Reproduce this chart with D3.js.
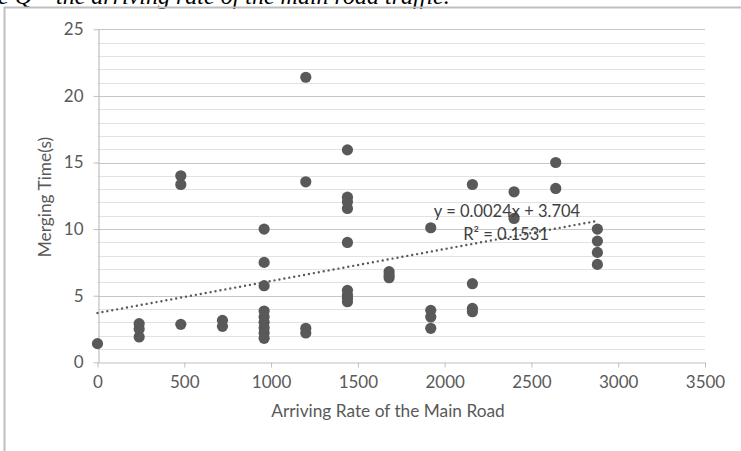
<!DOCTYPE html>
<html>
<head>
<meta charset="utf-8">
<script src="https://cdn.jsdelivr.net/npm/d3@7"></script>
<style>
  html, body { margin: 0; padding: 0; background: #fff; }
  svg { display: block; }
  .tick text { font-family: Lato, "Open Sans", sans-serif; }
</style>
</head>
<body>
<svg id="chart" width="741" height="451"></svg>
<script>
// Arriving rate (veh/h) of each observation
const arrivalRate = [
  0,
  240, 240, 240,
  480, 480, 480,
  720, 720,
  960, 960, 960, 960, 960, 960, 960, 960, 960,
  1200, 1200, 1200, 1200,
  1440, 1440, 1440, 1440, 1440, 1440, 1440, 1440, 1440,
  1680, 1680, 1680,
  1920, 1920, 1920, 1920,
  2160, 2160, 2160, 2160,
  2400, 2400,
  2640, 2640,
  2880, 2880, 2880, 2880
];
// Merging time (s) of each observation
const mergingTime = [
  1.4,
  2.9, 2.5, 1.9,
  14.0, 13.35, 2.85,
  3.15, 2.7,
  10.0, 7.5, 5.75, 3.85, 3.4, 3.0, 2.6, 2.2, 1.8,
  21.4, 13.55, 2.55, 2.2,
  15.95, 12.4, 12.05, 11.55, 9.0, 5.4, 5.05, 4.8, 4.55,
  6.8, 6.55, 6.35,
  10.1, 3.9, 3.4, 2.55,
  13.35, 5.9, 4.05, 3.8,
  12.8, 10.8,
  15.0, 13.05,
  10.0, 9.1, 8.25, 7.35
];
// Linear trend line as reported on the chart
const trendSlope = 0.0024;
const trendIntercept = 3.704;
const trendR2 = 0.1531;

const xTicks = [0, 500, 1000, 1500, 2000, 2500, 3000, 3500];
const yTicks = [0, 5, 10, 15, 20, 25];
const yMinorTicks = d3.range(0, 26, 1);

const xTitle = "Arriving Rate of the Main Road";
const yTitle = "Merging Time(s)";
const captionText = "e Q \u2013 the arriving rate of the main road traffic.";

const svg = d3.select("#chart");
const plot = { left: 97.5, right: 705, top: 29.3, bottom: 362.3 };

const x = d3.scaleLinear().domain([0, 3500]).range([plot.left, plot.right]);
const y = d3.scaleLinear().domain([0, 25]).range([plot.bottom, plot.top]);

// Caption line of the surrounding document, running off the top edge
svg.append("text")
  .attr("x", -2)
  .attr("y", 3.5)
  .attr("font-family", "'Liberation Serif', 'Times New Roman', serif")
  .attr("font-style", "italic")
  .attr("font-size", 24)
  .attr("fill", "#000")
  .text(captionText);

// Chart frame
svg.append("path")
  .attr("d", `M4.5,451 V7.5 H741`)
  .attr("fill", "none")
  .attr("stroke", "#bfbfbf")
  .attr("stroke-width", 2);

// Minor horizontal gridlines
svg.append("g")
  .selectAll("line")
  .data(yMinorTicks.filter(v => v % 5 !== 0))
  .join("line")
  .attr("x1", plot.left).attr("x2", plot.right)
  .attr("y1", d => Math.round(y(d)) + 0.5).attr("y2", d => Math.round(y(d)) + 0.5)
  .attr("stroke", "#e2e2e2")
  .attr("stroke-width", 1);

// Major horizontal gridlines
svg.append("g")
  .selectAll("line")
  .data(yTicks.filter(v => v > 0))
  .join("line")
  .attr("x1", plot.left).attr("x2", plot.right)
  .attr("y1", d => Math.round(y(d)) + 0.5).attr("y2", d => Math.round(y(d)) + 0.5)
  .attr("stroke", "#c6c6c6")
  .attr("stroke-width", 1.2);

// X axis
const xAxis = svg.append("g")
  .attr("transform", `translate(0,${Math.round(plot.bottom) + 0.5})`)
  .call(d3.axisBottom(x).tickValues(xTicks).tickFormat(d3.format("d")).tickSize(5).tickSizeOuter(0).tickPadding(8));
xAxis.select(".domain").attr("stroke", "#bfbfbf").attr("stroke-width", 1.2);
xAxis.selectAll(".tick line").attr("stroke", "#bfbfbf");
xAxis.selectAll(".tick text").attr("fill", "#595959").attr("font-size", 17);

// Y axis
const yAxis = svg.append("g")
  .attr("transform", `translate(${Math.round(plot.left) + 0.5},0)`)
  .call(d3.axisLeft(y).tickValues(yTicks).tickSize(5).tickSizeOuter(0).tickPadding(10));
yAxis.select(".domain").attr("stroke", "#bfbfbf").attr("stroke-width", 1.2);
yAxis.selectAll(".tick line").attr("stroke", "#bfbfbf");
yAxis.selectAll(".tick text").attr("fill", "#595959").attr("font-size", 17);

// Axis titles
svg.append("text")
  .attr("x", 388)
  .attr("y", 417)
  .attr("text-anchor", "middle")
  .attr("font-family", "Lato, 'Open Sans', sans-serif")
  .attr("font-size", 17.3)
  .attr("fill", "#595959")
  .text(xTitle);

svg.append("text")
  .attr("transform", `translate(51,197) rotate(-90)`)
  .attr("text-anchor", "middle")
  .attr("font-family", "Lato, 'Open Sans', sans-serif")
  .attr("font-size", 17.3)
  .attr("fill", "#595959")
  .text(yTitle);

// Observations
const points = arrivalRate.map((r, i) => ({ r, t: mergingTime[i] }));
svg.append("g")
  .selectAll("circle")
  .data(points)
  .join("circle")
  .attr("cx", d => x(d.r))
  .attr("cy", d => y(d.t))
  .attr("r", 5.6)
  .attr("fill", "#595959");

// Linear trend line over the observed range
const trendX = d3.extent(arrivalRate);
svg.append("line")
  .attr("x1", x(trendX[0])).attr("y1", y(trendIntercept + trendSlope * trendX[0]))
  .attr("x2", x(trendX[1])).attr("y2", y(trendIntercept + trendSlope * trendX[1]))
  .attr("stroke", "#595959")
  .attr("stroke-width", 2.4)
  .attr("stroke-dasharray", "0 5")
  .attr("stroke-linecap", "round");

// Trend line equation and R²
const eqGroup = svg.append("g")
  .attr("font-family", "Lato, 'Open Sans', sans-serif")
  .attr("font-size", 16.5)
  .attr("fill", "#404040")
  .attr("text-anchor", "middle");
eqGroup.append("text")
  .attr("x", 507).attr("y", 217)
  .text(`y = ${trendSlope}x + ${trendIntercept}`);
eqGroup.append("text")
  .attr("x", 506).attr("y", 240)
  .text(`R\u00b2 = ${trendR2}`);
</script>
</body>
</html>
